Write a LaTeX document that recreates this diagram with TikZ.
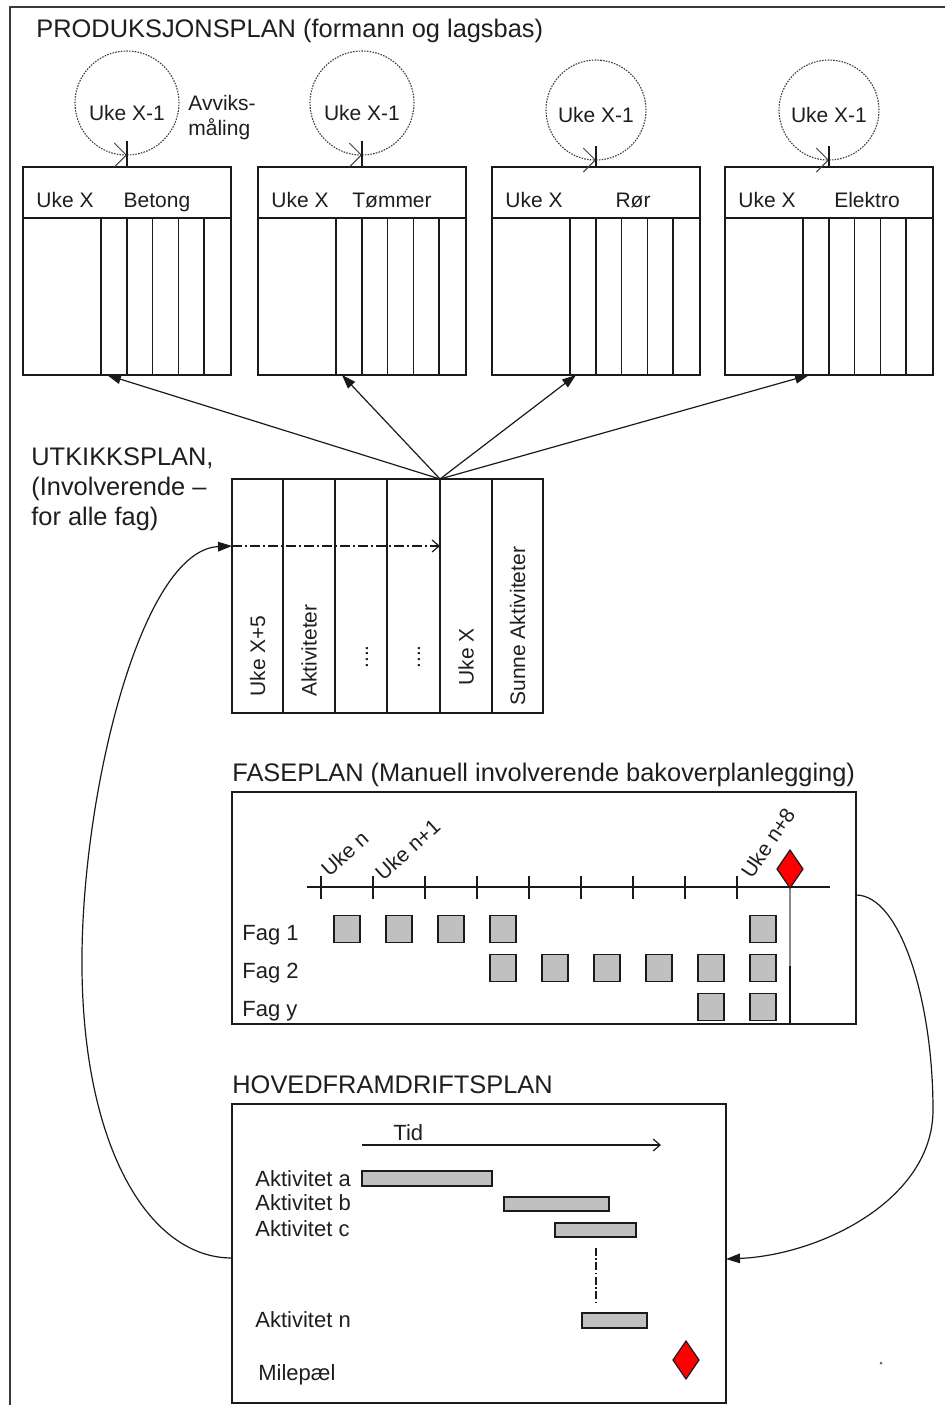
\documentclass[tikz,border=0pt]{standalone}
\usepackage{fontspec}
\setmainfont{Liberation Sans}
\usetikzlibrary{calc, positioning, arrows.meta}
\definecolor{frameC}{HTML}{3A3A3A}
\definecolor{lineC}{HTML}{1A1A1A}
\definecolor{barC}{HTML}{C0C0C0}
\definecolor{mileC}{HTML}{FF0000}
\definecolor{loopC}{HTML}{404040}
\definecolor{stemC}{HTML}{8A8A8A}
\definecolor{labelC}{HTML}{1E1E1E}
\def\lwBox{0.75pt}
\def\lwArrow{0.6pt}
\def\boxW{208}
\def\boxTopY{167}
\def\boxHeadY{218}
\def\boxBotY{375}
\def\colW{25.8}
\def\colOff{78}
\def\utkTopY{479}
\def\utkBotY{713}
\def\faseTopY{792}
\def\faseBotY{1024}
\def\axisY{887}
\def\hovTopY{1104}
\def\hovBotY{1403}
\newcommand\fsTitle{\fontsize{12.7}{15}\selectfont}
\newcommand\fsCell{\fontsize{10.5}{12.5}\selectfont}
\newcommand\fsAct{\fontsize{11}{13}\selectfont}

\tikzset{
  titlelabel/.style={labelC, anchor=base west, inner sep=0pt, font=\fsTitle},
  celllabel/.style={labelC, inner sep=0pt, font=\fsCell},
  actlabel/.style={labelC, anchor=base west, inner sep=0pt, font=\fsAct},
  steplabel/.style={labelC, anchor=base west, inner sep=0pt, font=\fsCell},
  collabel/.style={labelC, anchor=base west, inner sep=0pt, rotate=90, font=\fsCell},
  loopline/.style={loopC, line width=0.55pt, dash pattern=on 0.8pt off 0.6pt,
    -{Straight Barb[length=6pt, width=12pt, line width=0.45pt]}},
  feed/.style={lineC, line width=\lwArrow, -{Triangle[length=7pt, width=4.8pt]}},
  openarrow/.style={lineC, line width=\lwArrow, -{Straight Barb[length=3.5pt, width=6pt]}},
  gridline/.style={lineC, line width=\lwBox},
  phasebox/.style={draw=lineC, fill=barC, line width=0.7pt},
  milestone/.style={draw=lineC, fill=mileC, line width=0.6pt},
}

\begin{document}
\begin{tikzpicture}[x=0.5pt, y=-0.5pt, line join=miter]

  \useasboundingbox (0,0) rectangle (945,1405);

  % outer frame (runs off the right and bottom edge)
  \draw[frameC, line width=1pt] (9.5,1430) -- (9.5,6.5) -- (970,6.5);

  % --- PRODUKSJONSPLAN: four trade boxes with weekly loop ---
  \node[titlelabel] (prodtitle) at (36,37.5) {PRODUKSJONSPLAN (formann og lagsbas)};

  \foreach \i/\fag/\lx/\tx/\cy/\cr/\ty in {1/Betong/23/157/103/52/120, 2/Tømmer/258/392/103/52/120,
                                       3/Rør/492/633/110/50/122, 4/Elektro/725/867/110/50/122}{
    \pgfmathsetmacro{\rx}{\lx+\boxW}
    \pgfmathsetmacro{\cx}{\lx+104}
    \draw[gridline] (\lx,\boxTopY) rectangle (\rx,\boxBotY);
    \draw[gridline] (\lx,\boxHeadY) -- (\rx,\boxHeadY);
    \foreach \k in {0,...,4}
      \draw[gridline] ({\lx+\colOff+\k*\colW},\boxHeadY) -- ({\lx+\colOff+\k*\colW},\boxBotY);
    \node[celllabel, anchor=base west] (week\i) at ({\lx+13},207) {Uke X};
    \node[celllabel, anchor=base] (trade\i) at (\tx,207) {\fag};
    \coordinate (foot\i) at ({\lx+84},\boxBotY);
    \coordinate (head\i) at (\cx,\boxTopY);
    \coordinate (loopend\i) at (\cx,{\cy+\cr-14});
    % loop back from week X-1
    \draw[loopline] (\cx,{\cy+\cr}) arc[start angle=90, end angle=-270, radius=\cr];
    \node[celllabel, anchor=base] (prev\i) at (\cx,\ty) {Uke X-1};
    \draw[gridline, line width=0.6pt] (head\i) -- (loopend\i);
  }

  \node[celllabel, anchor=north west, align=left, font=\fontsize{10.5}{12.5}\selectfont]
    (deviation) at (188,95) {Avviks-\\måling};

  % --- UTKIKKSPLAN ---
  \node[titlelabel, anchor=north west, align=left] (outtitle) at (31,447)
    {UTKIKKSPLAN,\\(Involverende –\\for alle fag)};

  \draw[gridline] (232,\utkTopY) rectangle (543,\utkBotY);
  \foreach \x in {283,335,387,440,492}
    \draw[gridline] (\x,\utkTopY) -- (\x,\utkBotY);
  \coordinate (apex) at (440,\utkTopY);

  \node[collabel] (colweek5) at (265,697) {Uke X+5};
  \node[collabel] (colact)   at (316.5,697) {Aktiviteter};
  \node[collabel] (coldotsa) at (368,669) {....};
  \node[collabel] (coldotsb) at (420,669) {....};
  \node[collabel] (colweek)  at (473.5,686) {Uke X};
  \node[collabel] (colsound) at (525,706) {Sunne Aktiviteter};

  \coordinate (lookin)  at (232,546);
  \coordinate (lookout) at (440,546);
  \draw[openarrow, dash pattern=on 5pt off 1.5pt on 1pt off 1.5pt] (lookin) -- (lookout);

  \foreach \i in {1,...,4}
    \draw[feed] (apex) -- (foot\i);

  % --- FASEPLAN ---
  \node[titlelabel] (fasetitle) at (232,781) {FASEPLAN (Manuell involverende bakoverplanlegging)};
  \draw[gridline] (232,\faseTopY) rectangle (856,\faseBotY);

  \draw[lineC, line width=0.7pt] (307,\axisY) -- (830,\axisY);
  \foreach \k in {0,...,8}
    \draw[lineC, line width=0.7pt] ({321+52*\k},876) -- ({321+52*\k},899);

  \node[steplabel, rotate=42] (stepn)  at (329,878) {Uke n};
  \node[steplabel, rotate=42] (stepn1) at (383,882) {Uke n+1};
  \node[steplabel, rotate=56] (stepn8) at (752,880) {Uke n+8};

  \foreach \k/\y in {0/929,1/929,2/929,3/929,8/929,
                     3/968,4/968,5/968,6/968,7/968,8/968,
                     7/1007,8/1007}
    \draw[phasebox] ({347+52*\k-13},{\y-13.5}) rectangle ({347+52*\k+13},{\y+13.5});

  \node[celllabel, anchor=base west, font=\fsAct] (fag1) at (242,940) {Fag 1};
  \node[celllabel, anchor=base west, font=\fsAct] (fag2) at (242,978) {Fag 2};
  \node[celllabel, anchor=base west, font=\fsAct] (fagy) at (242,1016) {Fag y};

  \draw[stemC, line width=1.2pt] (790,888) -- (790,966);
  \draw[lineC, line width=0.6pt] (790,966) -- (790,\faseBotY);
  \draw[milestone] (790,850) -- (803,869) -- (790,888) -- (777,869) -- cycle;
  \coordinate (fasestart) at (856,895);

  % --- HOVEDFRAMDRIFTSPLAN ---
  \node[titlelabel] (hovtitle) at (232,1093) {HOVEDFRAMDRIFTSPLAN};
  \draw[gridline] (232,\hovTopY) rectangle (726,\hovBotY);

  \node[actlabel] (tid) at (393,1140) {Tid};
  \coordinate (tidstart) at (362,1145);
  \coordinate (tidend)   at (661,1145);
  \draw[openarrow] (tidstart) -- (tidend);

  \node[actlabel] (acta) at (255,1186) {Aktivitet a};
  \node[actlabel] (actb) at (255,1210) {Aktivitet b};
  \node[actlabel] (actc) at (255,1236) {Aktivitet c};
  \node[actlabel] (actn) at (255,1327) {Aktivitet n};
  \node[actlabel] (mile) at (258,1380) {Milepæl};

  \draw[phasebox] (362,1171) rectangle (492,1186);
  \draw[phasebox] (504,1197) rectangle (609,1211);
  \draw[phasebox] (555,1223) rectangle (636,1237);
  \draw[phasebox] (582,1313) rectangle (647,1328);
  \draw[lineC, line width=0.6pt, dash pattern=on 4pt off 1.2pt on 0.8pt off 1.2pt]
    (596,1248) -- (596,1302);
  \draw[milestone] (686,1341) -- (699,1360) -- (686,1379) -- (673,1360) -- cycle;

  \coordinate (hovwest) at (232,1258);
  \coordinate (hoveast) at (726,1259);

  % --- feedback loops ---
  \draw[feed] (hovwest) .. controls (150,1258) and (84,1150) .. (82,970)
    .. controls (80,800) and (140,550) .. (lookin);
  \draw[feed] (fasestart) .. controls (900,895) and (933,1000) .. (933,1110)
    .. controls (933,1200) and (820,1255) .. (hoveast);

  \fill[black!60] (881,1363) circle (1.5);
\end{tikzpicture}
\end{document}
